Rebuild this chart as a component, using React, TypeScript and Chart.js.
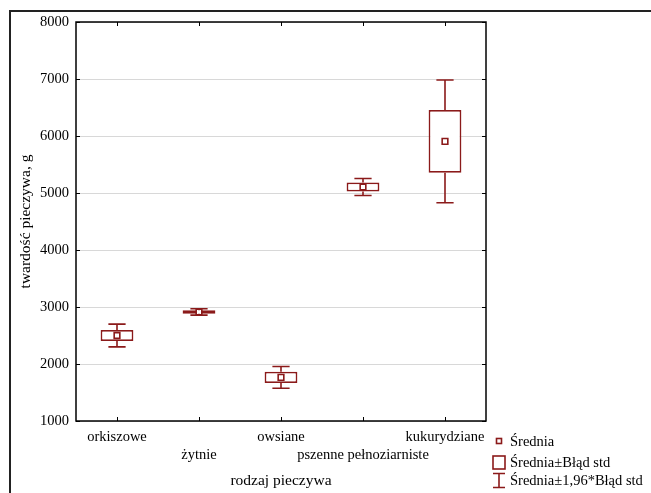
import React, { useEffect, useRef } from "react";
import { Chart, registerables } from "chart.js";

Chart.register(...registerables);

const categories: (string | string[])[] = [
  "orkiszowe",
  ["", "żytnie"],
  "owsiane",
  ["", "pszenne pełnoziarniste"],
  "kukurydziane",
];
const means = [2500, 2913, 1765, 5105, 5906];
const stdErr = [97, 32, 98, 78, 550];
const ci95 = [200, 55, 190, 150, 1076];
const yTicks = [1000, 2000, 3000, 4000, 5000, 6000, 7000, 8000];
const legendLabels = ["Średnia", "Średnia±Błąd std", "Średnia±1,96*Błąd std"];

const RED = "#8b1a1a";
const FONT = "'Liberation Serif', 'Times New Roman', serif";

const decorPlugin = {
  id: "decor",
  afterDatasetsDraw(chart: any) {
    const ctx = chart.ctx;
    const xs = chart.scales.x;
    const ys = chart.scales.y;
    const step = xs.getPixelForValue(1) - xs.getPixelForValue(0);
    const cap = step * 0.105;
    ctx.save();
    ctx.strokeStyle = RED;
    ctx.lineWidth = 1.6;
    means.forEach((m, i) => {
      const x = xs.getPixelForValue(i);
      const wTop = ys.getPixelForValue(m + ci95[i]);
      const wBot = ys.getPixelForValue(m - ci95[i]);
      const bTop = ys.getPixelForValue(m + stdErr[i]);
      const bBot = ys.getPixelForValue(m - stdErr[i]);
      ctx.beginPath();
      ctx.moveTo(x, wTop);
      ctx.lineTo(x, bTop);
      ctx.moveTo(x, bBot);
      ctx.lineTo(x, wBot);
      ctx.moveTo(x - cap, wTop);
      ctx.lineTo(x + cap, wTop);
      ctx.moveTo(x - cap, wBot);
      ctx.lineTo(x + cap, wBot);
      ctx.stroke();
    });
    ctx.restore();
  },
  afterDraw(chart: any) {
    const ctx = chart.ctx;
    const { left, right, top, bottom } = chart.chartArea;
    const xs = chart.scales.x;
    const ys = chart.scales.y;
    ctx.save();
    // outer frame
    ctx.strokeStyle = "#222";
    ctx.lineWidth = 2;
    ctx.beginPath();
    ctx.moveTo(10, chart.height);
    ctx.lineTo(10, 11);
    ctx.lineTo(chart.width, 11);
    ctx.stroke();
    // plot frame
    ctx.strokeStyle = "#000";
    ctx.lineWidth = 1.5;
    ctx.strokeRect(left, top, right - left, bottom - top);
    // inward ticks
    ctx.lineWidth = 1;
    ctx.beginPath();
    const tl = 4;
    categories.forEach((_, i) => {
      const x = Math.round(xs.getPixelForValue(i)) + 0.5;
      ctx.moveTo(x, bottom);
      ctx.lineTo(x, bottom - tl);
      ctx.moveTo(x, top);
      ctx.lineTo(x, top + tl);
    });
    yTicks.forEach((v) => {
      const y = Math.round(ys.getPixelForValue(v)) + 0.5;
      ctx.moveTo(left, y);
      ctx.lineTo(left + tl, y);
      ctx.moveTo(right, y);
      ctx.lineTo(right - tl, y);
    });
    ctx.stroke();
    // legend
    const lx = 499;
    ctx.strokeStyle = RED;
    ctx.lineWidth = 1.6;
    ctx.fillStyle = "#fff";
    ctx.fillRect(lx - 2.5, 438.5, 5, 5);
    ctx.strokeRect(lx - 2.5, 438.5, 5, 5);
    ctx.strokeRect(lx - 6, 456, 12, 13);
    ctx.beginPath();
    ctx.moveTo(lx - 6, 473.5);
    ctx.lineTo(lx + 6, 473.5);
    ctx.moveTo(lx, 473.5);
    ctx.lineTo(lx, 487.5);
    ctx.moveTo(lx - 6, 487.5);
    ctx.lineTo(lx + 6, 487.5);
    ctx.stroke();
    ctx.fillStyle = "#000";
    ctx.font = `14.5px ${FONT}`;
    ctx.textBaseline = "middle";
    ctx.textAlign = "left";
    ctx.fillText(legendLabels[0], 510, 442);
    ctx.fillText(legendLabels[1], 510, 463);
    ctx.fillText(legendLabels[2], 510, 481);
    ctx.restore();
  },
};

export default function App() {
  const ref = useRef<HTMLCanvasElement>(null);
  useEffect(() => {
    if (!ref.current) return;
    const chart = new Chart(ref.current, {
      type: "bar",
      data: {
        labels: categories as any,
        datasets: [
          {
            type: "line",
            label: legendLabels[0],
            data: means,
            showLine: false,
            pointStyle: "rect",
            pointRadius: 4,
            pointBorderWidth: 1.6,
            pointBorderColor: RED,
            pointBackgroundColor: "#fff",
            order: 0,
          } as any,
          {
            type: "bar",
            label: legendLabels[1],
            data: means.map((m, i) => [m - stdErr[i], m + stdErr[i]]),
            backgroundColor: "rgba(255,255,255,1)",
            borderColor: RED,
            borderWidth: 1.8,
            borderSkipped: false,
            barPercentage: 0.4,
            categoryPercentage: 1,
            order: 1,
          } as any,
        ],
      },
      options: {
        responsive: false,
        animation: false,
        events: [],
        layout: { padding: { top: 22, right: 165, left: 0, bottom: 0 } },
        plugins: { legend: { display: false }, tooltip: { enabled: false } },
        scales: {
          x: {
            offset: true,
            grid: { display: false, drawTicks: false },
            border: { display: false },
            ticks: {
              autoSkip: false,
              maxRotation: 0,
              minRotation: 0,
              padding: 7,
              color: "#000",
              font: { family: FONT, size: 14.5, lineHeight: 1.25 },
            },
            title: {
              display: true,
              text: "rodzaj pieczywa",
              color: "#000",
              font: { family: FONT, size: 15.5, lineHeight: 1.2 },
              padding: { top: 0, bottom: 3 },
            },
            afterFit: (s: any) => {
              s.height = 72;
            },
          },
          y: {
            min: 1000,
            max: 8000,
            grid: { color: "#d8d8d8", lineWidth: 1, drawTicks: false },
            border: { display: false },
            ticks: {
              stepSize: 1000,
              padding: 7,
              color: "#000",
              font: { family: FONT, size: 14.5 },
              callback: (v: any) => String(v),
            },
            title: {
              display: true,
              text: "twardość pieczywa, g",
              color: "#000",
              font: { family: FONT, size: 15.5, lineHeight: 1.2 },
              padding: { top: 17, bottom: 0 },
            },
            afterFit: (s: any) => {
              s.width = 76;
            },
          },
        },
      },
      plugins: [decorPlugin],
    });
    return () => chart.destroy();
  }, []);
  return (
    <div style={{ position: "absolute", left: 0, top: 0, width: 651, height: 493, background: "#fff" }}>
      <canvas ref={ref} width={651} height={493} />
    </div>
  );
}
